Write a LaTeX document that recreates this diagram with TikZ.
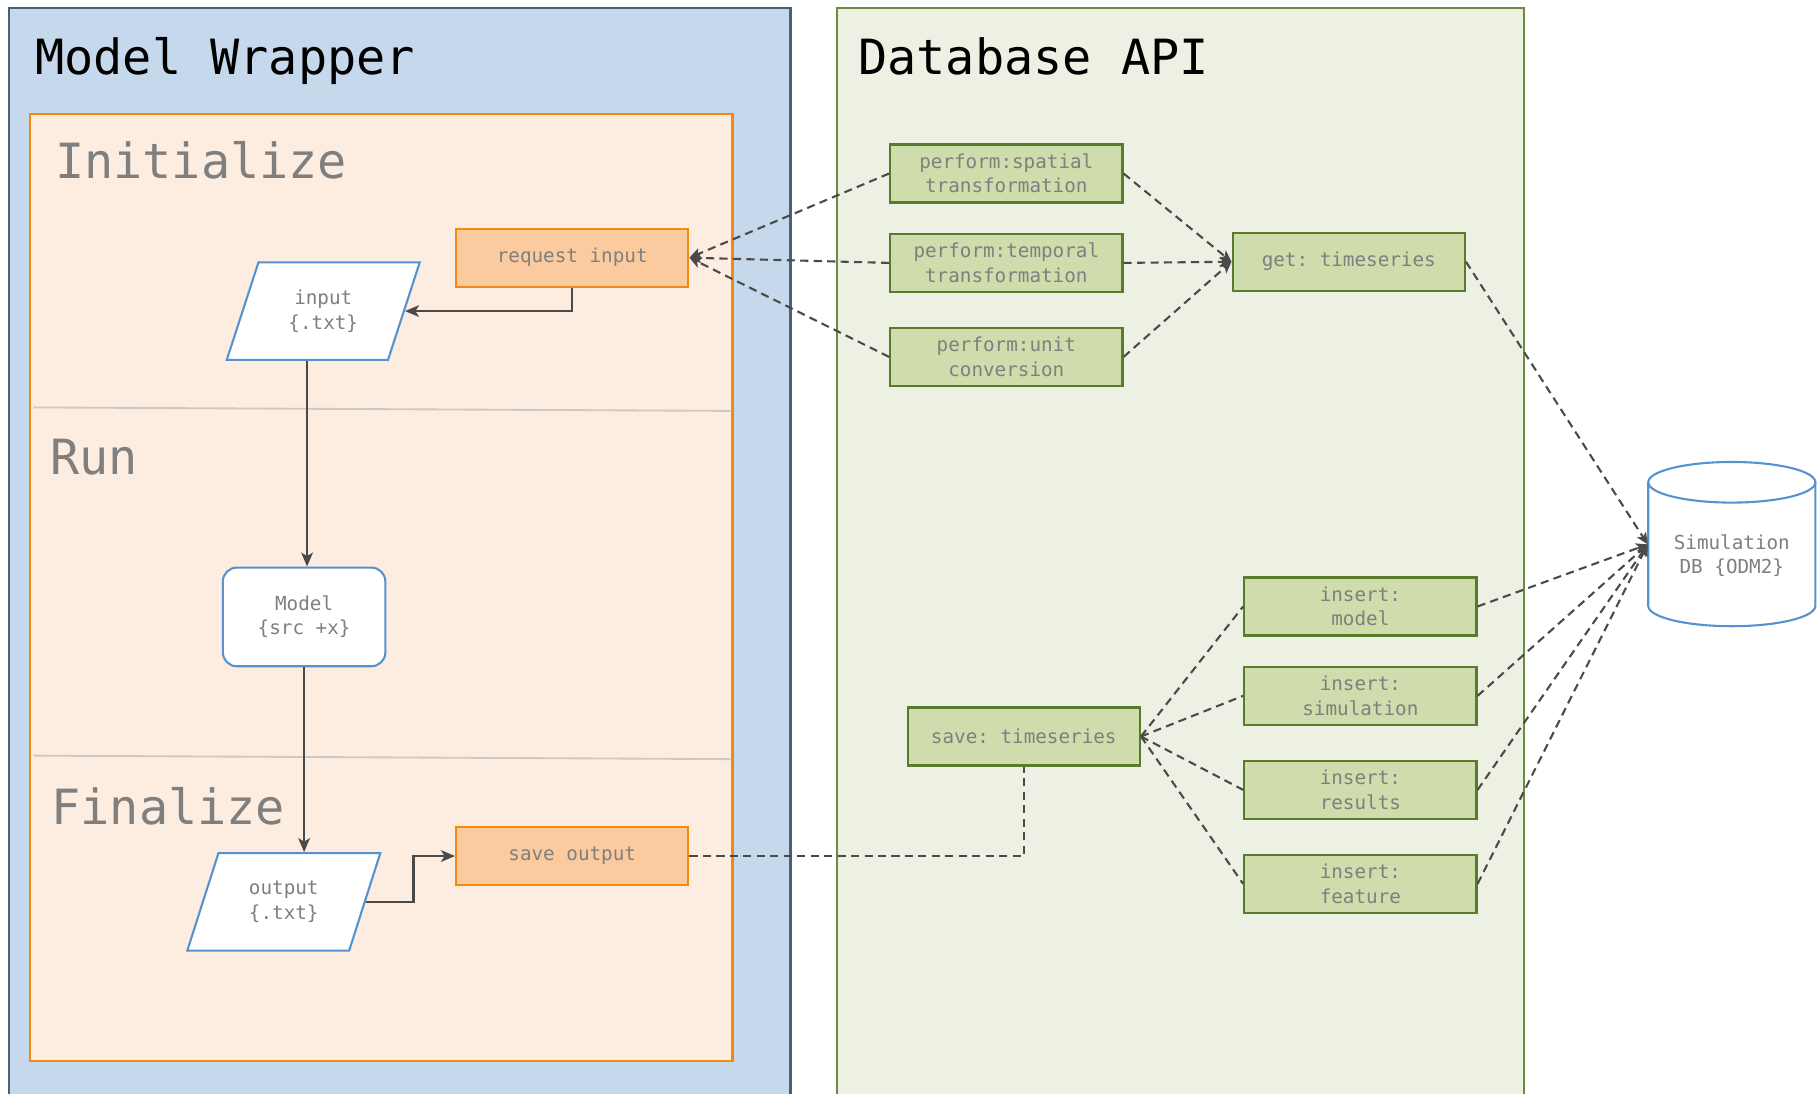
\documentclass[tikz,border=0pt]{standalone}
\usepackage{fontspec}
\setmonofont{DejaVu Sans Mono}
\usetikzlibrary{arrows.meta,shapes.geometric}
\definecolor{mwfill}{HTML}{C5D8EC}
\definecolor{mwline}{HTML}{44627F}
\definecolor{dbfill}{HTML}{EDF1E3}
\definecolor{dbline}{HTML}{6D8B3F}
\definecolor{orpanel}{HTML}{FDEDE0}
\definecolor{orline}{HTML}{F08A12}
\definecolor{orbox}{HTML}{FBCA9E}
\definecolor{grbox}{HTML}{CEDDAB}
\definecolor{grline}{HTML}{5A7B2C}
\definecolor{blline}{HTML}{5592D0}
\definecolor{txtgray}{HTML}{7F7F7F}
\definecolor{conn}{HTML}{4A4A4A}
\definecolor{sepgray}{HTML}{C9C9C9}
\tikzset{
  boxtext/.style={font=\ttfamily\fontsize{8.3}{10.5}\selectfont, text=txtgray, align=center, inner sep=0pt},
  obox/.style={boxtext, rectangle, draw=orline, fill=orbox, line width=1pt, minimum width=100pt, minimum height=25pt},
  gbox/.style={boxtext, rectangle, draw=grline, fill=grbox, line width=1pt, minimum width=100pt, minimum height=25pt},
  pgram/.style={boxtext, trapezium, trapezium left angle=68, trapezium right angle=112, trapezium stretches=true, draw=blline, fill=white, line width=0.9pt, minimum width=83.5pt, minimum height=42pt},
  rbox/.style={boxtext, rectangle, rounded corners=6pt, draw=blline, fill=white, line width=0.9pt, minimum width=70pt, minimum height=42.5pt},
  bigtitle/.style={font=\ttfamily\fontsize{20.9}{24}\selectfont, anchor=base west, inner sep=0pt},
  phasetitle/.style={bigtitle, text=txtgray},
  arr/.style={draw=conn, line width=1pt, -{Stealth[length=6pt,width=5pt,inset=1.5pt]}},
  dline/.style={draw=conn, line width=0.9pt, dash pattern=on 3.5pt off 2.3pt},
  dtip/.style={-{Stealth[length=5pt,width=4.5pt,inset=1.2pt]}}
}
\begin{document}
\begin{tikzpicture}[x=0.5pt,y=-0.5pt]
\useasboundingbox (0,0) rectangle (1568,942);
% panels
\fill[mwfill] (8,7) rectangle (681,950);
\draw[mwline, line width=0.9pt] (8,950) -- (8,7) -- (681,7) -- (681,950);
\fill[dbfill] (721,7) rectangle (1313,950);
\draw[dbline, line width=0.9pt] (721,950) -- (721,7) -- (1313,7) -- (1313,950);
\draw[orline, fill=orpanel, line width=1pt] (26,98) rectangle (631,914);
\draw[sepgray, line width=0.8pt] (29,351) -- (629,354);
\draw[sepgray, line width=0.8pt] (29,651) -- (629,654);
% titles
\node[bigtitle] (tmw) at (30,64) {Model Wrapper};
\node[bigtitle] (tdb) at (739,64) {Database API};
\node[phasetitle] (tinit) at (47,154) {Initialize};
\node[phasetitle] (trun) at (43,409) {Run};
\node[phasetitle] (tfin) at (44,710) {Finalize};
% left nodes
\node[obox] (reqin) at (493,222) {request input};
\node[obox] (saveout) at (493,737.5) {save output};
\node[pgram] (input) at (278.5,268) {input\\\{.txt\}};
\node[rbox] (model) at (262,531.5) {Model\\\{src +x\}};
\node[pgram] (output) at (244.5,777) {output\\\{.txt\}};
% right nodes
\node[gbox] (spatial) at (867,149.5) {perform:spatial\\transformation};
\node[gbox] (temporal) at (867,226.5) {perform:temporal\\transformation};
\node[gbox] (unit) at (867,307.5) {perform:unit\\conversion};
\node[gbox] (get) at (1162,225.5) {get: timeseries};
\node[gbox] (savets) at (882,634.5) {save: timeseries};
\node[gbox] (imodel) at (1172,522.5) {insert:\\model};
\node[gbox] (isim) at (1172,599.5) {insert:\\simulation};
\node[gbox] (ires) at (1172,680.5) {insert:\\results};
\node[gbox] (ifeat) at (1172,761.5) {insert:\\feature};
% database cylinder
\fill[white] (1420,415.5) -- (1420,522) arc[start angle=180,end angle=360,x radius=36pt,y radius=8.75pt] -- (1564,415.5) arc[start angle=0,end angle=180,x radius=36pt,y radius=8.75pt] -- cycle;
\draw[blline, line width=0.9pt] (1420,415.5) -- (1420,522) arc[start angle=180,end angle=360,x radius=36pt,y radius=8.75pt] -- (1564,415.5);
\draw[blline, line width=0.9pt] (1492,415.5) ellipse[x radius=36pt,y radius=8.75pt];
\node[boxtext, minimum width=72pt, minimum height=71pt] (db) at (1492,469) {};
\node[boxtext] (dbtext) at (1492,479) {Simulation\\DB \{ODM2\}};
% solid flow
\draw[arr] (reqin.south) |- (input.right side);
\draw[arr] (input.bottom side) -- (input.bottom side |- model.north);
\draw[arr] (model.south) -- (model.south |- output.top side);
\draw[arr] (output.right side) -- ++(41,0) |- (saveout.west);
% dashed connectors
\draw[dline, dtip] (spatial.west) -- (reqin.east);
\draw[dline, dtip] (temporal.west) -- (reqin.east);
\draw[dline, dtip] (unit.west) -- (reqin.east);
\draw[dline, dtip] (spatial.east) -- (get.west);
\draw[dline, dtip] (temporal.east) -- (get.west);
\draw[dline, dtip] (unit.east) -- (get.west);
\draw[dline, dtip] (get.east) -- (db.west);
\draw[dline] (saveout.east) -| (savets.south);
\draw[dline] (savets.east) -- (imodel.west);
\draw[dline] (savets.east) -- (isim.west);
\draw[dline] (savets.east) -- (ires.west);
\draw[dline] (savets.east) -- (ifeat.west);
\draw[dline, dtip] (imodel.east) -- (db.west);
\draw[dline, dtip] (isim.east) -- (db.west);
\draw[dline, dtip] (ires.east) -- (db.west);
\draw[dline, dtip] (ifeat.east) -- (db.west);
\end{tikzpicture}
\end{document}
